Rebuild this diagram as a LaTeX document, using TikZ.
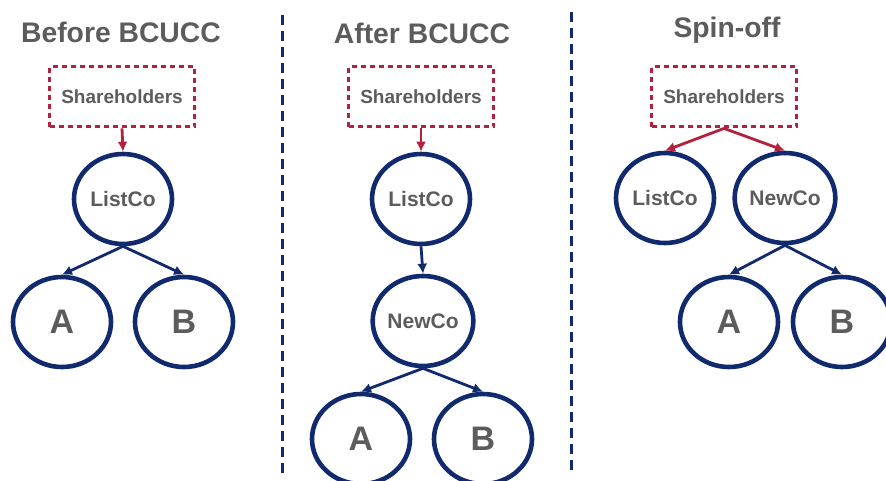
\documentclass[tikz,border=0pt]{standalone}
\usepackage{fontspec}
\setmainfont{Liberation Sans}
\usetikzlibrary{shapes.geometric,arrows.meta}
\definecolor{navy}{HTML}{112A6E}
\definecolor{crim}{HTML}{B3213F}
\definecolor{txtgray}{HTML}{5C5C5C}
\tikzset{
  co/.style={ellipse,draw=navy,line width=4.6pt,minimum width=98pt,minimum height=90pt,inner sep=0pt,text=txtgray,font=\fontsize{21}{24}\selectfont\bfseries},
  sub/.style={co,font=\fontsize{34}{38}\selectfont\bfseries},
  shbox/.style={rectangle,draw=crim,line width=3.8pt,dash pattern=on 5pt off 4pt,minimum width=145pt,minimum height=60pt,inner sep=0pt,text=txtgray,font=\fontsize{19}{22}\selectfont\bfseries},
  ttl/.style={text=txtgray,font=\fontsize{28.3}{32}\selectfont\bfseries,inner sep=0pt},
  navarr/.style={draw=navy,line width=2.8pt,-{Latex[length=10pt,width=10pt]}},
  redarr/.style={draw=crim,line width=2.8pt,-{Latex[length=10pt,width=10pt]}},
  divider/.style={draw=navy,line width=3pt,dash pattern=on 10pt off 6pt}
}
\begin{document}
\begin{tikzpicture}[x=1pt,y=-1pt]
\useasboundingbox (0,0) rectangle (886,480);
% dividers
\coordinate (d1a) at (282,15); \coordinate (d1b) at (282,475);
\coordinate (d2a) at (571,12); \coordinate (d2b) at (571,470);
\draw[divider] (d1a) -- (d1b);
\draw[divider] (d2a) -- (d2b);
% Panel 1
\node[ttl] (t1) at (121,32) {Before BCUCC};
\node[shbox] (s1) at (122,96.5) {Shareholders};
\node[co] (l1) at (123,199) {ListCo};
\node[sub] (a1) at (62,322) {A};
\node[sub] (b1) at (184,322) {B};
\draw[redarr] (s1.south) -- (l1.north);
\draw[navarr] (l1.south) -- (a1.north);
\draw[navarr] (l1.south) -- (b1.north);
% Panel 2
\node[ttl] (t2) at (422,33) {After BCUCC};
\node[shbox] (s2) at (421,96.5) {Shareholders};
\node[co] (l2) at (421,199) {ListCo};
\node[co] (n2) at (423,321) {NewCo};
\node[sub] (a2) at (361,439) {A};
\node[sub] (b2) at (483,439) {B};
\draw[redarr] (s2.south) -- (l2.north);
\draw[navarr] (l2.south) -- (n2.north);
\draw[navarr] (n2.south) -- (a2.north);
\draw[navarr] (n2.south) -- (b2.north);
% Panel 3
\node[ttl] (t3) at (727,30) {Spin-off};
\node[shbox] (s3) at (724,96.5) {Shareholders};
\node[co] (l3) at (665,198) {ListCo};
\node[co] (n3) at (785,198) {NewCo};
\node[sub] (a3) at (729,322) {A};
\node[sub] (b3) at (842,322) {B};
\draw[redarr] (s3.south) -- (l3.north);
\draw[redarr] (s3.south) -- (n3.north);
\draw[navarr] (n3.south) -- (a3.north);
\draw[navarr] (n3.south) -- (b3.north);
\end{tikzpicture}
\end{document}
